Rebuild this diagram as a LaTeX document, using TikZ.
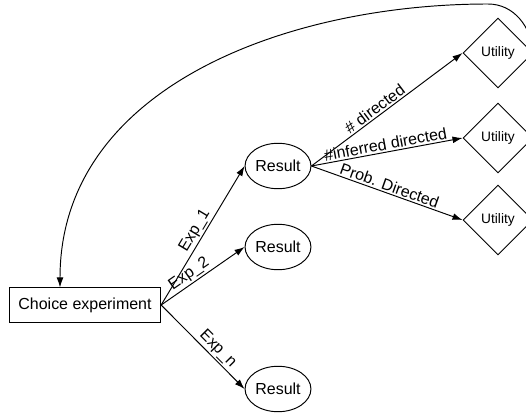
\documentclass[tikz,border=0pt]{standalone}
\usepackage{fontspec}
\setmainfont{Liberation Sans}
\usetikzlibrary{shapes.geometric,arrows.meta}

\tikzset{
    box/.style={draw, rectangle, minimum height=0.75cm, inner xsep=0.2cm},
    result/.style={draw, ellipse, minimum width=1.45cm, minimum height=1.0cm, inner sep=0pt},
    utility/.style={draw, diamond, minimum width=1.54cm, minimum height=1.54cm, inner sep=0pt, font=\fontsize{8.6}{10}\selectfont},
    lbl/.style={sloped, above, inner sep=1pt}
}

\begin{document}
\begin{tikzpicture}[x=0.022cm, y=-0.022cm, semithick, >={Latex[length=2.2mm,width=1.5mm]}]
        \clip (0,0) rectangle (526,416);

        % Choice box
        \node[box] (choice) at (85,305) {Choice experiment};

        % Results
        \foreach \name/\y in {r1/166, r2/247, r3/389}
            {
                \node[result] (\name) at (278,\y) {Result};
            }

        % Utilities
        \foreach \name/\y in {u1/53, u2/138, u3/220}
            {
                \node[utility] (\name) at (498,\y) {Utility};
            }

        % Experiments
        \draw[->] (choice.east) -- (r1.west) node[lbl, pos=0.5] {Exp\_1};
        \draw[->] (choice.east) -- (r2.west) node[lbl, pos=0.4] {Exp\_2};
        \draw[->] (choice.east) -- (r3.west) node[lbl, pos=0.6] {Exp\_n};

        % Measures
        \draw[->] (r1.east) -- (u1.west) node[lbl, pos=0.45] {\# directed};
        \draw[->] (r1.east) -- (u2.west) node[lbl, pos=0.5] {\#inferred directed};
        \draw[->] (r1.east) -- (u3.west) node[lbl, pos=0.5] {Prob. Directed};

        % Feedback
        \coordinate (fbtop) at (488,4);
        \draw[->] (u1.east) to[out=95, in=0] (fbtop) to[out=180, in=90] ([xshift=-0.55cm]choice.north);

\end{tikzpicture}
\end{document}
